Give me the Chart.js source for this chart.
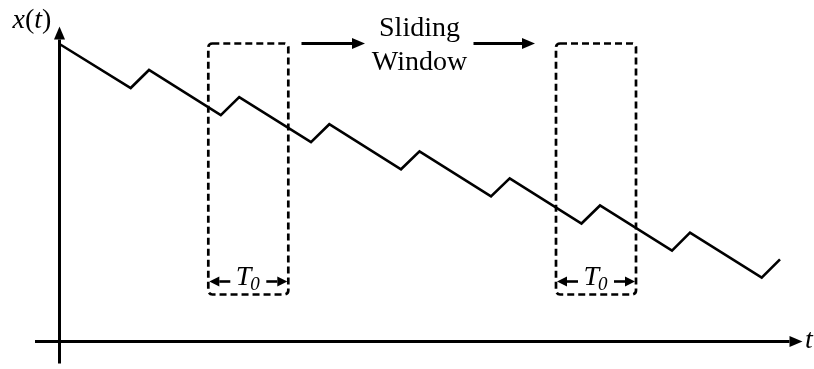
<!DOCTYPE html>
<html lang="en">
<head>
<meta charset="UTF-8">
<title>Sliding window over x(t)</title>
<script src="https://cdn.jsdelivr.net/npm/chart.js@4.4.1/dist/chart.umd.min.js"></script>
<style>
  html, body { margin: 0; padding: 0; background: #fff; }
  canvas { display: block; }
</style>
</head>
<body>
<canvas id="myChart" width="814" height="369"></canvas>

<script>
// signal samples: time t and value x(t) at each corner of the sawtooth
var tVals = [0, 7.12, 8.95, 16.13, 17.97, 25.15, 26.98, 34.15, 36.0, 43.15, 45.02, 52.2, 54.05, 61.25, 63.05, 70.22, 72.05];
var xVals = [29.75, 25.35, 27.15, 22.64, 24.44, 19.93, 21.73, 17.22, 19.02, 14.51, 16.31, 11.8, 13.6, 9.09, 10.89, 6.38, 8.22];

// window start times and window length T0
var windowStarts = [14.88, 49.65];
var windowLen = 8.0;
var windowTop = 29.8;
var windowBottom = 4.7;

var points = tVals.map(function (t, i) { return { x: t, y: xVals[i] }; });

function arrow(ctx, x1, y1, x2, y2, len, half) {
  var a = Math.atan2(y2 - y1, x2 - x1);
  var bx = x2 - len * Math.cos(a), by = y2 - len * Math.sin(a);
  ctx.beginPath();
  ctx.moveTo(x1, y1);
  ctx.lineTo(bx, by);
  ctx.stroke();
  ctx.beginPath();
  ctx.moveTo(x2, y2);
  ctx.lineTo(bx - half * Math.sin(a), by + half * Math.cos(a));
  ctx.lineTo(bx + half * Math.sin(a), by - half * Math.cos(a));
  ctx.closePath();
  ctx.fill();
}

var sketch = {
  id: 'sketch',
  beforeDatasetsDraw: function (chart) {
    var ctx = chart.ctx, sx = chart.scales.x, sy = chart.scales.y;
    ctx.save();
    ctx.strokeStyle = '#000';
    ctx.fillStyle = '#000';
    ctx.lineWidth = 3;
    // axes
    arrow(ctx, sx.getPixelForValue(-2.45), sy.getPixelForValue(0),
               sx.getPixelForValue(74.3), sy.getPixelForValue(0), 13, 5.5);
    arrow(ctx, sx.getPixelForValue(0), sy.getPixelForValue(-2.2),
               sx.getPixelForValue(0), sy.getPixelForValue(31.5), 13, 5.5);
    ctx.restore();
  },
  afterDatasetsDraw: function (chart) {
    var ctx = chart.ctx, sx = chart.scales.x, sy = chart.scales.y;
    ctx.save();
    ctx.strokeStyle = '#000';
    ctx.fillStyle = '#000';

    // dashed windows with T0 markers
    windowStarts.forEach(function (t0) {
      var l = sx.getPixelForValue(t0), r = sx.getPixelForValue(t0 + windowLen);
      var top = sy.getPixelForValue(windowTop), bot = sy.getPixelForValue(windowBottom);
      ctx.lineWidth = 2.7;
      ctx.setLineDash([7, 4]);
      ctx.beginPath();
      ctx.roundRect(l, top, r - l, bot - top, 4);
      ctx.stroke();
      ctx.setLineDash([]);

      var ay = sy.getPixelForValue(6.0), mid = (l + r) / 2;
      ctx.lineWidth = 2.6;
      arrow(ctx, mid - 18, ay, l + 1, ay, 10, 5);
      arrow(ctx, mid + 18, ay, r - 1, ay, 10, 5);

      ctx.textBaseline = 'alphabetic';
      ctx.textAlign = 'left';
      ctx.font = 'italic 28px "Liberation Serif"';
      var wT = ctx.measureText('T').width;
      ctx.font = 'italic 19px "Liberation Serif"';
      var w0 = ctx.measureText('0').width;
      var sxT = mid - (wT + w0) / 2;
      ctx.font = 'italic 28px "Liberation Serif"';
      ctx.fillText('T', sxT, ay + 3);
      ctx.font = 'italic 19px "Liberation Serif"';
      ctx.fillText('0', sxT + wT - 1, ay + 8);
    });

    // sliding direction arrows
    ctx.lineWidth = 3;
    var ay2 = sy.getPixelForValue(windowTop);
    arrow(ctx, sx.getPixelForValue(24.2), ay2, sx.getPixelForValue(30.55), ay2, 13, 5.5);
    arrow(ctx, sx.getPixelForValue(41.4), ay2, sx.getPixelForValue(47.55), ay2, 13, 5.5);

    ctx.textAlign = 'center';
    ctx.font = '28px "Liberation Serif"';
    var cx = sx.getPixelForValue(36.0);
    ctx.fillText('Sliding', cx, 36);
    ctx.fillText('Window', cx, 70);

    // axis labels
    ctx.textAlign = 'left';
    var ox = 12.5, by = 27.5;
    ctx.font = 'italic 28px "Liberation Serif"';
    ctx.fillText('x', ox, by); ox += ctx.measureText('x').width;
    ctx.font = '28px "Liberation Serif"';
    ctx.fillText('(', ox, by); ox += ctx.measureText('(').width;
    ctx.font = 'italic 28px "Liberation Serif"';
    ctx.fillText('t', ox, by); ox += ctx.measureText('t').width;
    ctx.font = '28px "Liberation Serif"';
    ctx.fillText(')', ox, by);

    ctx.font = 'italic 28px "Liberation Serif"';
    ctx.fillText('t', 805, 348);
    ctx.restore();
  }
};

var myChart = new Chart(document.getElementById('myChart').getContext('2d'), {
  type: 'line',
  data: {
    datasets: [{
      data: points,
      borderColor: '#000',
      borderWidth: 2.6,
      pointRadius: 0,
      tension: 0,
      fill: false
    }]
  },
  options: {
    responsive: false,
    animation: false,
    layout: { padding: 0 },
    plugins: { legend: { display: false }, tooltip: { enabled: false } },
    scales: {
      x: { type: 'linear', min: -5.95, max: 75.45, display: false },
      y: { type: 'linear', min: -2.75, max: 34.15, display: false }
    }
  },
  plugins: [sketch]
});
</script>
</body>
</html>
